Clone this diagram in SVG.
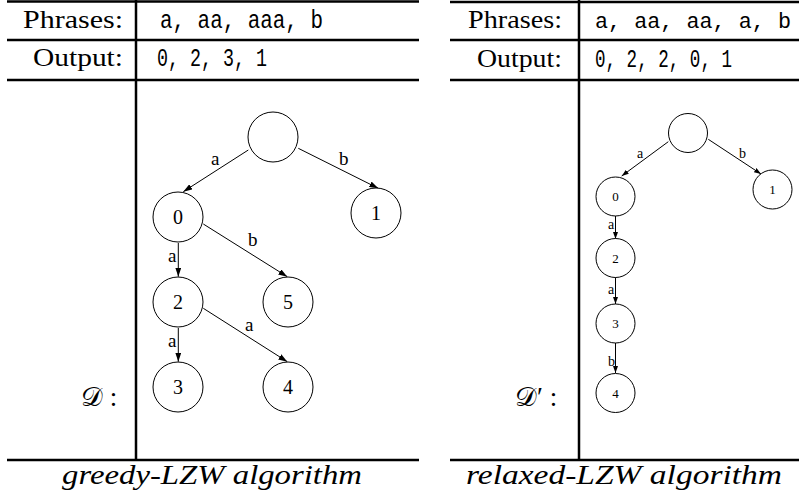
<svg xmlns="http://www.w3.org/2000/svg" width="799" height="494" viewBox="0 0 799 494">
<defs>
<marker id="ah" markerWidth="9" markerHeight="6" refX="9" refY="3" orient="auto" markerUnits="userSpaceOnUse"><path d="M0,0 L9,3 L0,6 z" fill="#000"/></marker>
<marker id="ahs" markerWidth="7" markerHeight="5" refX="7" refY="2.5" orient="auto" markerUnits="userSpaceOnUse"><path d="M0,0 L7,2.5 L0,5 z" fill="#000"/></marker>
</defs>
<style>
.rule{stroke:#000;stroke-width:2.5;fill:none}
.hdr{font-family:"Liberation Serif",serif;font-size:25px;fill:#000}
.mono{font-family:"Liberation Mono",monospace;font-size:25px;fill:#000}
.cap{font-family:"Liberation Serif",serif;font-style:italic;font-size:28px;fill:#000}
.nd{fill:#fff;stroke:#000;stroke-width:1}
.num{font-family:"Liberation Serif",serif;font-size:20px;text-anchor:middle;fill:#000}
.nums{font-family:"Liberation Serif",serif;font-size:13px;text-anchor:middle;fill:#000}
.lbl{font-family:"Liberation Serif",serif;font-size:19px;fill:#000}
.lbls{font-family:"Liberation Serif",serif;font-size:14px;fill:#000}
.e{stroke:#000;stroke-width:1;fill:none;marker-end:url(#ah)}
.es{stroke:#000;stroke-width:1;fill:none;marker-end:url(#ahs)}
.dl{font-family:"Liberation Serif","DejaVu Serif","DejaVu Sans",serif;font-size:27px;fill:#000}
</style>
<rect width="799" height="494" fill="#fff"/>
<g id="table-left">
<line class="rule" x1="7" y1="1.5" x2="419" y2="1.5"/>
<line class="rule" x1="7" y1="40" x2="419" y2="40"/>
<line class="rule" x1="7" y1="80" x2="419" y2="80"/>
<line class="rule" x1="7" y1="460" x2="419" y2="460"/>
<line class="rule" x1="136" y1="0" x2="136" y2="460"/>
<text class="hdr" x="23" y="28" textLength="100" lengthAdjust="spacingAndGlyphs">Phrases:</text>
<text class="hdr" x="33" y="66" textLength="90" lengthAdjust="spacingAndGlyphs">Output:</text>
<text class="mono" x="160" y="28" textLength="163" lengthAdjust="spacingAndGlyphs">a, aa, aaa, b</text>
<text class="mono" x="157" y="66" textLength="110" lengthAdjust="spacingAndGlyphs">0, 2, 3, 1</text>
<text class="dl" x="81" y="406">𝒟 :</text>
<text class="cap" x="62" y="484" textLength="300" lengthAdjust="spacingAndGlyphs">greedy-LZW algorithm</text>
</g>
<g id="table-right">
<line class="rule" x1="450" y1="2" x2="799" y2="2"/>
<line class="rule" x1="450" y1="40" x2="799" y2="40"/>
<line class="rule" x1="450" y1="80" x2="799" y2="80"/>
<line class="rule" x1="450" y1="460" x2="799" y2="460"/>
<line class="rule" x1="579" y1="0" x2="579" y2="460"/>
<text class="hdr" x="468" y="28" textLength="94" lengthAdjust="spacingAndGlyphs">Phrases:</text>
<text class="hdr" x="477" y="67" textLength="85" lengthAdjust="spacingAndGlyphs">Output:</text>
<text class="mono" x="595" y="28" font-size="22" textLength="196" lengthAdjust="spacingAndGlyphs" style="font-size:22px">a, aa, aa, a, b</text>
<text class="mono" x="595" y="67" textLength="137" lengthAdjust="spacingAndGlyphs">0, 2, 2, 0, 1</text>
<text class="dl" x="515" y="406">𝒟′ :</text>
<text class="cap" x="466" y="484" textLength="316" lengthAdjust="spacingAndGlyphs">relaxed-LZW algorithm</text>
</g>
<g id="connectors">
<line class="e" x1="248.3" y1="150" x2="183.3" y2="191.7"/>
<line class="e" x1="298.3" y1="148.3" x2="378.3" y2="188.3"/>
<line class="e" x1="203.3" y1="224" x2="287.3" y2="276.7"/>
<line class="e" x1="178.3" y1="243" x2="178.3" y2="276.7"/>
<line class="e" x1="203.3" y1="308.3" x2="287.3" y2="361.7"/>
<line class="e" x1="178.3" y1="328" x2="178.3" y2="361.7"/>
<text class="lbl" x="211" y="165">a</text>
<text class="lbl" x="339" y="165">b</text>
<text class="lbl" x="248" y="245.6">b</text>
<text class="lbl" x="168" y="261.7">a</text>
<text class="lbl" x="245" y="330.7">a</text>
<text class="lbl" x="168" y="346.7">a</text>
<line class="es" x1="668.3" y1="141.7" x2="621.7" y2="176"/>
<line class="es" x1="708.3" y1="139.3" x2="761" y2="174"/>
<line class="es" x1="615.5" y1="216" x2="615.5" y2="239"/>
<line class="es" x1="615.5" y1="277" x2="615.5" y2="304"/>
<line class="es" x1="615.5" y1="343" x2="615.5" y2="373"/>
<text class="lbls" x="637" y="158">a</text>
<text class="lbls" x="739" y="158">b</text>
<text class="lbls" x="608" y="229">a</text>
<text class="lbls" x="608" y="294">a</text>
<text class="lbls" x="608" y="366">b</text>
</g>
<g id="g-root"><circle class="nd" cx="273" cy="137" r="25"/></g>
<g id="g-n0"><circle class="nd" cx="178" cy="217" r="25"/><text class="num" x="178" y="224">0</text></g>
<g id="g-n1"><circle class="nd" cx="376" cy="213" r="25"/><text class="num" x="376" y="220">1</text></g>
<g id="g-n2"><circle class="nd" cx="178" cy="302" r="25"/><text class="num" x="178" y="309">2</text></g>
<g id="g-n5"><circle class="nd" cx="288" cy="302" r="25"/><text class="num" x="288" y="309">5</text></g>
<g id="g-n3"><circle class="nd" cx="178" cy="387" r="25"/><text class="num" x="178" y="394">3</text></g>
<g id="g-n4"><circle class="nd" cx="288" cy="387" r="25"/><text class="num" x="288" y="394">4</text></g>
<g id="r-root"><circle class="nd" cx="688" cy="133" r="19.5"/></g>
<g id="r-n0"><circle class="nd" cx="615.5" cy="196.5" r="19.5"/><text class="nums" x="615.5" y="201">0</text></g>
<g id="r-n1"><circle class="nd" cx="772.5" cy="189.5" r="19.5"/><text class="nums" x="772.5" y="194">1</text></g>
<g id="r-n2"><circle class="nd" cx="615.5" cy="258" r="19.5"/><text class="nums" x="615.5" y="262.5">2</text></g>
<g id="r-n3"><circle class="nd" cx="615.5" cy="323.5" r="19.5"/><text class="nums" x="615.5" y="328">3</text></g>
<g id="r-n4"><circle class="nd" cx="615.5" cy="393" r="19.5"/><text class="nums" x="615.5" y="397.5">4</text></g>
</svg>
